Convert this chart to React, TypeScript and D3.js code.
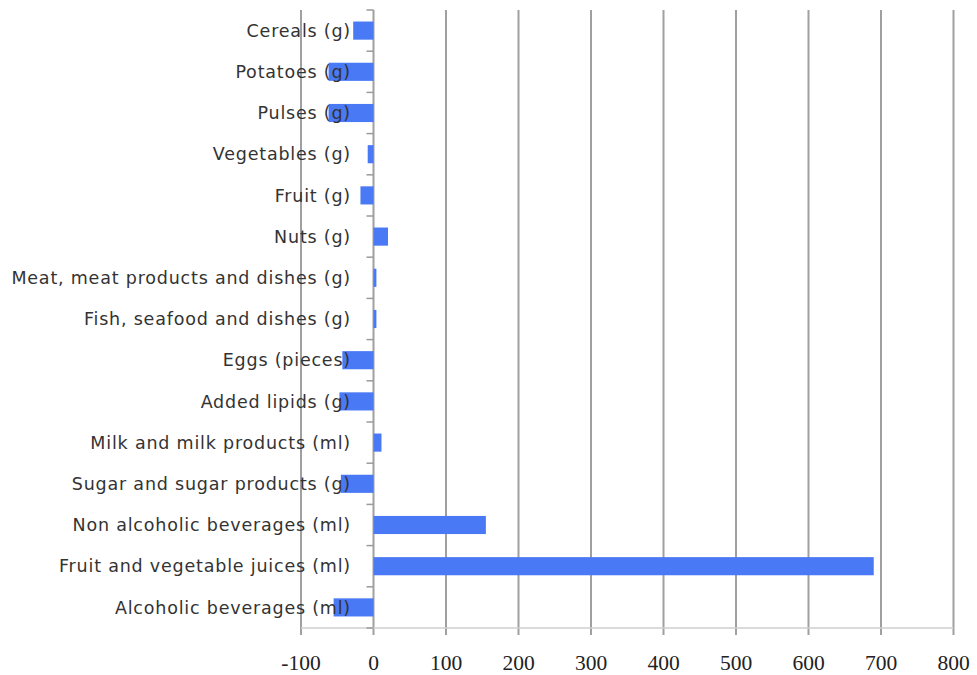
import React from "react";
import * as d3 from "d3";

const categories = [
  "Cereals (g)",
  "Potatoes (g)",
  "Pulses (g)",
  "Vegetables (g)",
  "Fruit (g)",
  "Nuts (g)",
  "Meat, meat products and dishes (g)",
  "Fish, seafood and dishes (g)",
  "Eggs (pieces)",
  "Added lipids (g)",
  "Milk and milk products (ml)",
  "Sugar and sugar products (g)",
  "Non alcoholic beverages (ml)",
  "Fruit and vegetable juices (ml)",
  "Alcoholic beverages (ml)",
];
const values = [-28, -62, -62, -8, -18, 20, 4, 4, -43, -47, 11, -45, 155, 690, -55];
const xTicks = [-100, 0, 100, 200, 300, 400, 500, 600, 700, 800];

const W = 977;
const H = 675;
const left = 301;
const right = 953.5;
const top = 10;
const bottom = 628;

export default function App() {
  const x = d3.scaleLinear().domain([-100, 800]).range([left, right]);
  const y = d3.scaleBand<string>().domain(categories).range([top, bottom]).paddingInner(0.56).paddingOuter(0.28);
  const yb = d3.scaleBand<string>().domain(categories).range([top, bottom]);
  const x0 = x(0);
  return (
    <svg width={W} height={H} style={{ position: "absolute", left: 0, top: 0, background: "#fff" }}>
      {xTicks.map((t) => (
        <line key={"g" + t} x1={x(t)} x2={x(t)} y1={top} y2={bottom + 7} stroke="#a0a0a0" strokeWidth={2} />
      ))}
      <line x1={left} x2={right} y1={bottom} y2={bottom} stroke="#cfcfcf" strokeWidth={1.5} />
      {categories.map((c, i) => {
        const v = values[i];
        return (
          <rect
            key={c}
            x={Math.min(x(v), x0)}
            width={Math.abs(x(v) - x0)}
            y={y(c)}
            height={y.bandwidth()}
            fill="#4a79f6"
          />
        );
      })}
      {categories.map((c) => (
        <line key={"t" + c} x1={x0 - 7} x2={x0} y1={yb(c)} y2={yb(c)} stroke="#9a9a9a" strokeWidth={1.5} />
      ))}
      <line x1={x0 - 7} x2={x0} y1={bottom} y2={bottom} stroke="#9a9a9a" strokeWidth={1.5} />
      {categories.map((c) => (
        <text
          key={"l" + c}
          x={351}
          y={(yb(c) as number) + yb.bandwidth() / 2}
          dy="0.35em"
          textAnchor="end"
          fontFamily="DejaVu Sans, sans-serif"
          fontSize={17.5}
          letterSpacing={0.8}
          fill="#333"
        >
          {c}
        </text>
      ))}
      {xTicks.map((t) => (
        <text
          key={"x" + t}
          x={x(t)}
          y={670}
          textAnchor="middle"
          fontFamily="Liberation Serif, serif"
          fontSize={21.5}
          fill="#222"
        >
          {t}
        </text>
      ))}
    </svg>
  );
}
